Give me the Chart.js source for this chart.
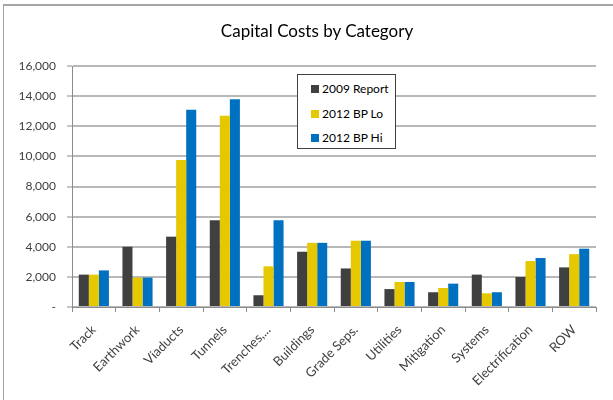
<!DOCTYPE html>
<html>
<head>
<meta charset="utf-8">
<script src="https://cdn.jsdelivr.net/npm/chart.js@4/dist/chart.umd.min.js"></script>
<style>
    html, body { margin: 0; padding: 0; background: #fff; }
    #wrap { position: relative; width: 613px; height: 400px; overflow: hidden; }
    #frame {
        position: absolute; left: 3px; top: 4px; width: 700px; height: 500px;
        border-top: 2px solid #a6a6a6; border-left: 1px solid #a6a6a6;
    }
    #title {
        position: absolute; left: 0; top: 20px; width: 634px; text-align: center;
        font-family: Lato, "Open Sans", sans-serif; font-size: 17px; color: #000;
    }
    #legend {
        position: absolute; left: 297px; top: 74px; width: 99px; height: 75px;
        border: 1px solid #404040; background: #fff; box-sizing: border-box;
        font-family: Lato, "Open Sans", sans-serif; font-size: 12px; color: #000;
    }
    .item { position: absolute; left: 13px; height: 14px; line-height: 14px; white-space: nowrap; }
    .swatch { display: inline-block; width: 8px; height: 8px; margin-right: 3px; vertical-align: 0px; }
    canvas { position: absolute; left: 0; top: 0; }
</style>
</head>
<body>
<div id="wrap">
    <div id="frame"></div>
    <canvas id="costChart" width="613" height="400"></canvas>
    <div id="title">Capital Costs by Category</div>
    <div id="legend"></div>
</div>
<script>
    // Categorias y valores
    const categories = ['Track', 'Earthwork', 'Viaducts', 'Tunnels', 'Trenches,...', 'Buildings',
        'Grade Seps.', 'Utilities', 'Mitigation', 'Systems', 'Electrification', 'ROW'];
    const seriesNames = ['2009 Report', '2012 BP Lo', '2012 BP Hi'];
    const report2009 = [2150, 4000, 4670, 5760, 780, 3670, 2560, 1190, 980, 2150, 1990, 2630];
    const bpLo2012 = [2150, 1950, 9760, 12700, 2700, 4260, 4400, 1660, 1260, 910, 3050, 3510];
    const bpHi2012 = [2430, 1950, 13090, 13800, 5760, 4260, 4400, 1660, 1550, 980, 3250, 3870];
    const yTicks = [0, 2000, 4000, 6000, 8000, 10000, 12000, 14000, 16000];
    const seriesColors = ['#404040', '#e6c800', '#0070c0'];

    const FONT = 'Lato, "Open Sans", sans-serif';

    function buildLegend() {
        const legend = document.getElementById('legend');
        seriesNames.forEach((name, i) => {
            const item = document.createElement('div');
            item.className = 'item';
            item.style.top = (7 + i * 24.5) + 'px';
            const sw = document.createElement('span');
            sw.className = 'swatch';
            sw.style.background = seriesColors[i];
            item.appendChild(sw);
            item.appendChild(document.createTextNode(name));
            legend.appendChild(item);
        });
    }

    function initChart() {
        const ctx = document.getElementById('costChart');
        const values = [report2009, bpLo2012, bpHi2012];

        new Chart(ctx, {
            type: 'bar',
            data: {
                labels: categories,
                datasets: seriesNames.map((name, i) => ({
                    label: name,
                    data: values[i],
                    backgroundColor: seriesColors[i],
                    borderWidth: 0,
                    categoryPercentage: 0.69,
                    barPercentage: 1.0
                }))
            },
            options: {
                responsive: false,
                animation: false,
                layout: {
                    padding: { left: 0, right: 17, top: 66, bottom: 0 }
                },
                plugins: {
                    legend: { display: false },
                    title: { display: false },
                    tooltip: { enabled: false }
                },
                scales: {
                    x: {
                        grid: {
                            offset: true,
                            drawOnChartArea: false,
                            drawTicks: true,
                            tickLength: 5,
                            color: '#8c8c8c'
                        },
                        border: { color: '#8c8c8c' },
                        ticks: {
                            minRotation: 45,
                            maxRotation: 45,
                            autoSkip: false,
                            padding: 10,
                            color: '#404040',
                            font: { family: FONT, size: 13 }
                        },
                        afterFit: (scale) => { scale.height = 93; }
                    },
                    y: {
                        min: 0,
                        max: 16000,
                        afterBuildTicks: (scale) => {
                            scale.ticks = yTicks.map(v => ({ value: v }));
                        },
                        grid: {
                            color: '#b8b8b8',
                            lineWidth: 2,
                            tickLength: 5,
                            tickColor: '#8c8c8c',
                            tickWidth: 1
                        },
                        border: { color: '#8c8c8c', width: 1 },
                        ticks: {
                            padding: 11,
                            color: '#404040',
                            font: { family: FONT, size: 12 },
                            callback: (value) => value === 0 ? '-' : value.toLocaleString('en-US')
                        },
                        afterFit: (scale) => { scale.width = 72; }
                    }
                }
            }
        });
    }

    buildLegend();
    initChart();
</script>
</body>
</html>
